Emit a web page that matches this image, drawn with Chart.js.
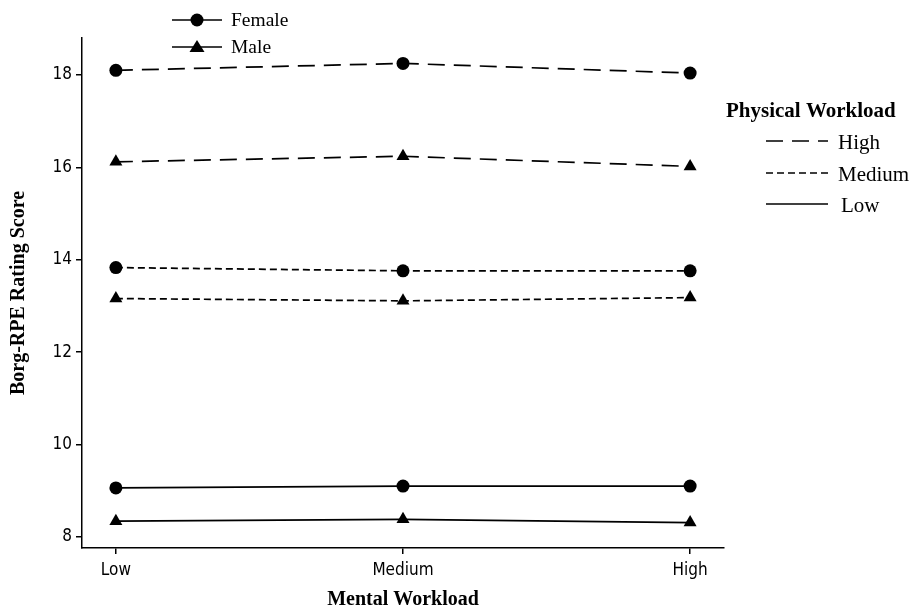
<!DOCTYPE html>
<html>
<head>
<meta charset="utf-8">
<script src="https://cdn.jsdelivr.net/npm/chart.js@4/dist/chart.umd.min.js"></script>
<style>
  html, body { margin: 0; padding: 0; background: #fff; }
  #wrap { width: 913px; height: 608px; }
</style>
</head>
<body>
<div id="wrap"><canvas id="c" width="913" height="608"></canvas></div>
<script>
// Mental workload levels (x axis)
const mentalLevels = ['Low', 'Medium', 'High'];
const yTicks = [8, 10, 12, 14, 16, 18];

// Borg-RPE scores per physical workload level, by gender
const femaleHigh   = [18.10, 18.25, 18.04];
const maleHigh     = [16.12, 16.24, 16.02];
const femaleMedium = [13.83, 13.76, 13.76];
const maleMedium   = [13.16, 13.11, 13.18];
const femaleLow    = [9.06, 9.10, 9.10];
const maleLow      = [8.34, 8.38, 8.31];

const dashes = { High: [17, 9], Medium: [7, 4], Low: [] };

function series(values, label, dash, marker) {
  return {
    label: label,
    data: values.map((v, i) => ({ x: i, y: v })),
    borderColor: '#000',
    backgroundColor: '#000',
    borderWidth: 1.7,
    borderDash: dash,
    pointStyle: marker,
    pointRadius: marker === 'triangle' ? 7.5 : 6.5,
    pointBackgroundColor: '#000',
    pointBorderColor: '#000',
    pointBorderWidth: 0,
    tension: 0
  };
}

const serif = '"Liberation Serif", "Times New Roman", serif';
const sans = '"DejaVu Sans Condensed", "DejaVu Sans", sans-serif';

// Draws both legends (marker legend and line-style legend)
const legendPlugin = {
  id: 'customLegends',
  afterDraw(chart) {
    const ctx = chart.ctx;
    ctx.save();
    ctx.strokeStyle = '#000';
    ctx.fillStyle = '#000';
    ctx.lineWidth = 1.7;

    // Gender markers
    const genders = [['Female', 'circle', 20], ['Male', 'triangle', 47]];
    genders.forEach(([txt, shape, y]) => {
      ctx.setLineDash([]);
      ctx.beginPath();
      ctx.moveTo(172, y); ctx.lineTo(222, y); ctx.stroke();
      ctx.beginPath();
      if (shape === 'circle') {
        ctx.arc(197, y, 6.5, 0, Math.PI * 2);
      } else {
        ctx.moveTo(197, y - 7); ctx.lineTo(204.5, y + 5); ctx.lineTo(189.5, y + 5); ctx.closePath();
      }
      ctx.fill();
      ctx.font = '19.5px ' + serif;
      ctx.textBaseline = 'middle';
      ctx.textAlign = 'left';
      ctx.fillText(txt, 231, y + 1);
    });

    // Physical workload line styles
    ctx.font = 'bold 21px ' + serif;
    ctx.textAlign = 'left';
    ctx.textBaseline = 'middle';
    ctx.fillText('Physical Workload', 726, 112);
    const levels = [['High', 141], ['Medium', 173], ['Low', 204]];
    ctx.font = '21px ' + serif;
    levels.forEach(([txt, y]) => {
      ctx.setLineDash(dashes[txt]);
      ctx.beginPath();
      ctx.moveTo(766, y); ctx.lineTo(828, y); ctx.stroke();
      ctx.fillText(txt, txt === 'Low' ? 841 : 838, y + 2);
    });
    ctx.restore();
  }
};

new Chart(document.getElementById('c'), {
  type: 'line',
  data: {
    datasets: [
      series(femaleHigh, 'Female High', dashes.High, 'circle'),
      series(maleHigh, 'Male High', dashes.High, 'triangle'),
      series(femaleMedium, 'Female Medium', dashes.Medium, 'circle'),
      series(maleMedium, 'Male Medium', dashes.Medium, 'triangle'),
      series(femaleLow, 'Female Low', dashes.Low, 'circle'),
      series(maleLow, 'Male Low', dashes.Low, 'triangle')
    ]
  },
  options: {
    responsive: false,
    animation: false,
    layout: { padding: { top: 38, right: 189, left: 0, bottom: 0 } },
    plugins: { legend: { display: false }, tooltip: { enabled: false } },
    scales: {
      x: {
        type: 'linear',
        min: -0.118,
        max: 2.118,
        afterBuildTicks(scale) { scale.ticks = mentalLevels.map((_, i) => ({ value: i })); },
        afterFit(scale) { scale.height = 60; },
        ticks: {
          callback: (v) => mentalLevels[v],
          color: '#000',
          font: { family: sans, size: 17 },
          padding: 6,
          maxRotation: 0
        },
        grid: { drawOnChartArea: false, drawTicks: true, tickLength: 6, color: '#000', lineWidth: 1.5 },
        border: { display: true, color: '#000', width: 1.5 },
        title: {
          display: true,
          text: 'Mental Workload',
          color: '#000',
          font: { family: serif, size: 20, weight: 'bold' },
          padding: { top: 0, bottom: -4 }
        }
      },
      y: {
        min: 7.76,
        max: 18.8,
        afterBuildTicks(scale) { scale.ticks = yTicks.map(v => ({ value: v })); },
        afterFit(scale) { scale.width = 82; },
        ticks: {
          color: '#000',
          font: { family: sans, size: 17 },
          padding: 4
        },
        grid: { drawOnChartArea: false, drawTicks: true, tickLength: 6, color: '#000', lineWidth: 1.5 },
        border: { display: true, color: '#000', width: 1.5 },
        title: {
          display: true,
          text: 'Borg-RPE Rating Score',
          color: '#000',
          font: { family: serif, size: 20, weight: 'bold' },
          padding: { top: 7, bottom: 0 }
        }
      }
    }
  },
  plugins: [legendPlugin]
});
</script>
</body>
</html>
